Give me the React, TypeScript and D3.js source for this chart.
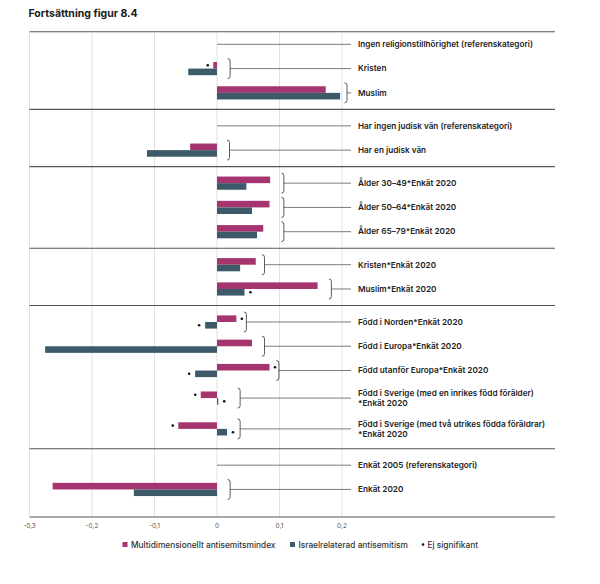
import React from 'react';
import * as d3 from 'd3';

// Rader uppifrån och ned. "\n" = tvåradig etikett.
const labels = [
  'Ingen religionstillhörighet (referenskategori)',
  'Kristen',
  'Muslim',
  'Har ingen judisk vän (referenskategori)',
  'Har en judisk vän',
  'Ålder 30–49*Enkät 2020',
  'Ålder 50–64*Enkät 2020',
  'Ålder 65–79*Enkät 2020',
  'Kristen*Enkät 2020',
  'Muslim*Enkät 2020',
  'Född i Norden*Enkät 2020',
  'Född i Europa*Enkät 2020',
  'Född utanför Europa*Enkät 2020',
  'Född i Sverige (med en inrikes född förälder)\n*Enkät 2020',
  'Född i Sverige (med två utrikes födda föräldrar)\n*Enkät 2020',
  'Enkät 2005 (referenskategori)',
  'Enkät 2020',
];
const groupOf = [0, 0, 0, 1, 1, 2, 2, 2, 3, 3, 4, 4, 4, 4, 4, 5, 5];

// Multidimensionellt antisemitsmindex
const multiIndex: (number | null)[] = [
  null, -0.006, 0.174, null, -0.043, 0.085, 0.084, 0.074, 0.062, 0.161,
  0.031, 0.056, 0.084, -0.026, -0.062, null, -0.263,
];
// Israelrelaterad antisemitism
const israelIndex: (number | null)[] = [
  null, -0.046, 0.197, null, -0.112, 0.047, 0.056, 0.064, 0.037, 0.044,
  -0.019, -0.275, -0.035, 0.002, 0.016, null, -0.133,
];
// Ej signifikant
const multiNS = [false, true, false, false, false, false, false, false, false, false, true, false, true, true, true, false, false];
const israelNS = [false, false, false, false, false, false, false, false, false, true, true, false, true, true, true, false, false];
// var klammern sitter (i x-enheter)
const bracketAt: (number | null)[] = [
  null, 0.021, 0.208, null, 0.02, 0.107, 0.107, 0.107, 0.076, 0.183,
  0.047, 0.076, 0.099, 0.037, 0.037, null, 0.021,
];

const ticks = [-0.3, -0.2, -0.1, 0, 0.1, 0.2];

const PINK = '#a6346f';
const TEAL = '#3e5a69';
const FONT = "Inter, 'Open Sans', sans-serif";

export default function App() {
  const width = 600;
  const height = 584;
  const left = 29.5;
  const right = 555;
  const labelX = 358;
  const leaderEnd = 351;

  const x = d3.scaleLinear().domain([-0.3, 0.2]).range([left, 342]);

  // radpositioner i "enheter"
  const centers: number[] = [];
  const seps: number[] = [0];
  let cursor = 0;
  const nGroups = d3.max(groupOf)! + 1;
  for (let g = 0; g < nGroups; g++) {
    const idx = d3.range(labels.length).filter(i => groupOf[i] === g);
    cursor += g === 0 ? 0.52 : 0.68;
    idx.forEach((i, k) => {
      const two = labels[i].includes('\n');
      const prevTwo = k > 0 && labels[idx[k - 1]].includes('\n');
      if (k > 0) cursor += 1 + (prevTwo ? 0.135 : 0);
      if (two) cursor += 0.135;
      centers[i] = cursor;
    });
    if (labels[idx[idx.length - 1]].includes('\n')) cursor += 0.135;
    cursor += g === nGroups - 1 ? 1.135 : 0.68;
    seps.push(cursor);
  }
  const y = d3.scaleLinear().domain([0, cursor]).range([31.7, 517]);
  const barH = 6.6;
  const x0 = x(0);

  const bracket = (bx: number, cy: number) => {
    const h = 10;
    return `M${bx - 2.5},${cy - h} Q${bx},${cy - h} ${bx},${cy - h + 2.5} L${bx},${cy + h - 2.5} Q${bx},${cy + h} ${bx - 2.5},${cy + h}`;
  };

  return (
    <svg width={width} height={height} style={{ position: 'absolute', left: 0, top: 0, background: '#fff' }} fontFamily={FONT}>
      <text x={28.5} y={17} fontSize={10.5} fontWeight={700} fill="#1a1a1a">Fortsättning figur 8.4</text>

      {ticks.map(t => (
        <line key={t} x1={x(t)} x2={x(t)} y1={y(0)} y2={y(cursor)} stroke="#d4d4d4" strokeWidth={0.7} />
      ))}

      {seps.map((s, i) => (
        <line key={i} x1={left} x2={right} y1={y(s)} y2={y(s)} stroke="#555" strokeWidth={1.1} />
      ))}

      {labels.map((lab, i) => {
        const cy = y(centers[i]);
        const m = multiIndex[i];
        const t = israelIndex[i];
        const b = bracketAt[i];
        const lines = lab.split('\n');
        return (
          <g key={i}>
            {m !== null && (
              <rect x={Math.min(x(m), x0)} y={cy - barH} width={Math.abs(x(m) - x0)} height={barH} fill={PINK} />
            )}
            {t !== null && (
              <rect x={Math.min(x(t), x0)} y={cy} width={Math.max(Math.abs(x(t) - x0), 1)} height={barH} fill={TEAL} />
            )}
            {m !== null && multiNS[i] && (
              <circle cx={x(m) + (m < 0 ? -5.5 : 5.5)} cy={cy - barH / 2} r={1.3} fill="#111" />
            )}
            {t !== null && israelNS[i] && (
              <circle cx={x(t) + (t < 0 ? -6 : 6)} cy={cy + barH / 2} r={1.3} fill="#111" />
            )}
            {b !== null ? (
              <>
                <path d={bracket(x(b), cy)} fill="none" stroke="#333" strokeWidth={0.8} />
                <line x1={x(b)} x2={leaderEnd} y1={cy} y2={cy} stroke="#444" strokeWidth={0.7} />
              </>
            ) : (
              <line x1={x0} x2={leaderEnd} y1={cy} y2={cy} stroke="#444" strokeWidth={0.7} />
            )}
            <text x={labelX} y={cy} fontSize={8.2} fontWeight={600} fill="#222">
              {lines.map((ln, k) => (
                <tspan key={k} x={labelX} dy={k === 0 ? (lines.length === 1 ? 2.8 : -2.2) : 10}>{ln}</tspan>
              ))}
            </text>
          </g>
        );
      })}

      {ticks.map(t => (
        <text key={t} x={x(t)} y={528} fontSize={6.5} fill="#555" textAnchor="middle">
          {t === 0 ? '0' : d3.format('.1f')(t).replace('.', ',').replace('−', '-')}
        </text>
      ))}

      <g fontSize={8.3} fontWeight={500} fill="#333">
        <rect x={122.5} y={542} width={5} height={5} fill={PINK} />
        <text x={131} y={547.5}>Multidimensionellt antisemitsmindex</text>
        <rect x={290} y={542} width={5} height={5} fill={TEAL} />
        <text x={298.5} y={547.5}>Israelrelaterad antisemitism</text>
        <circle cx={423} cy={544.5} r={1.3} fill="#111" />
        <text x={427.5} y={547.5}>Ej signifikant</text>
      </g>
    </svg>
  );
}
